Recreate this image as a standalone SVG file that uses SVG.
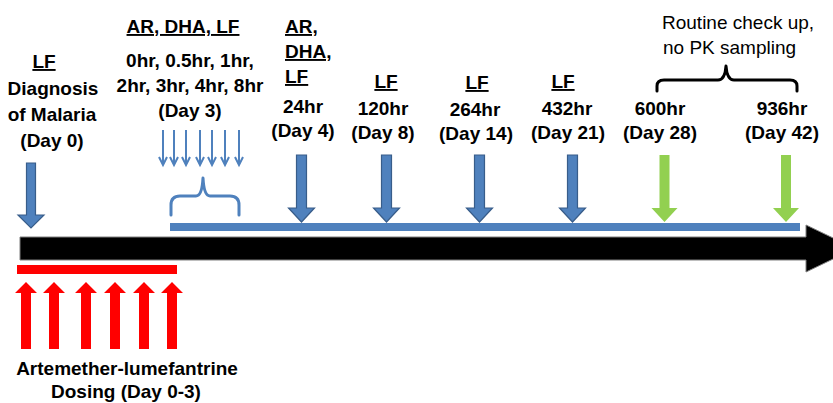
<svg xmlns="http://www.w3.org/2000/svg" width="833" height="403" viewBox="0 0 833 403">
<style>
text{font-family:"Liberation Sans",Arial,sans-serif;font-size:19px;fill:#000}
.b{font-weight:bold}
.u{text-decoration:underline}
.m{text-anchor:middle}
.blue{fill:#4f81bd;stroke:#385d8a;stroke-width:1.2}
.green{fill:#92d050;stroke:none}
.red{fill:#ff0000}
.thin{stroke:#4f81bd;stroke-width:2;fill:none}
.brace{fill:none;stroke-width:3;stroke-linecap:round;stroke-linejoin:round}
</style>
<defs>
<path id="down" d="M-5,-67 H5 V-14 H13 L0,0 L-13,-14 H-5 Z"/>
<path id="up" d="M-5,67 H5 V11 H11 L0,0 L-11,11 H-5 Z"/>
<g id="small"><path d="M0,0 V35 M-4,27 L0,35 L4,27"/></g>
</defs>

<g id="timeline">
<path d="M20,237 H806 V225 L855,248.5 L806,272 V260 H20 Z" fill="#000" stroke="#7f7f7f" stroke-width="1"/>
<rect x="170" y="223" width="630" height="8" fill="#4f81bd"/>
</g>

<g id="node-day0">
<text class="b u m" x="44" y="68">LF</text>
<text class="b m" x="53" y="95">Diagnosis</text>
<text class="b m" x="52" y="121">of Malaria</text>
<text class="b m" x="52" y="147">(Day 0)</text>
</g>

<g id="node-day3">
<text class="b u m" x="183" y="33">AR, DHA, LF</text>
<text class="b m" x="190" y="67">0hr, 0.5hr, 1hr,</text>
<text class="b m" x="190" y="92">2hr, 3hr, 4hr, 8hr</text>
<text class="b m" x="190" y="117">(Day 3)</text>
</g>

<g id="node-day4">
<text class="b u" x="285" y="33">AR,</text>
<text class="b u" x="285" y="58">DHA,</text>
<text class="b u" x="285" y="83">LF</text>
<text class="b m" x="303" y="113">24hr</text>
<text class="b m" x="303" y="137">(Day 4)</text>
</g>

<g id="node-day8">
<text class="b u m" x="386" y="88">LF</text>
<text class="b m" x="383" y="115">120hr</text>
<text class="b m" x="383" y="139">(Day 8)</text>
</g>

<g id="node-day14">
<text class="b u m" x="477" y="89">LF</text>
<text class="b m" x="475" y="116">264hr</text>
<text class="b m" x="476" y="140">(Day 14)</text>
</g>

<g id="node-day21">
<text class="b u m" x="563" y="88">LF</text>
<text class="b m" x="567" y="115">432hr</text>
<text class="b m" x="568" y="139">(Day 21)</text>
</g>

<g id="node-day28">
<text class="b m" x="660" y="115">600hr</text>
<text class="b m" x="660" y="139">(Day 28)</text>
</g>

<g id="node-day42">
<text class="b m" x="782" y="115">936hr</text>
<text class="b m" x="782" y="139">(Day 42)</text>
</g>

<g id="node-routine">
<text x="662" y="29">Routine check up,</text>
<text x="663" y="54">no PK sampling</text>
<path class="brace" stroke="#000" d="M657,91 V86 Q657,80 664,80 H718 Q725,80 726,66 Q727,80 734,80 H790 Q797,80 797,86 V91"/>
</g>

<g id="node-dosing">
<rect class="red" x="17" y="265" width="160" height="9"/>
<use href="#up" class="red" x="26" y="282"/>
<use href="#up" class="red" x="54" y="282"/>
<use href="#up" class="red" x="86" y="282"/>
<use href="#up" class="red" x="115" y="282"/>
<use href="#up" class="red" x="144" y="282"/>
<use href="#up" class="red" x="172" y="282"/>
<text class="b m" x="127" y="375">Artemether-lumefantrine</text>
<text class="b m" x="126" y="398">Dosing (Day 0-3)</text>
</g>

<g id="connectors">
<path class="blue" d="M26.5,163 H35.5 V215 H44 L31,228 L18,215 H26.5 Z"/>
<use href="#down" class="blue" x="301.5" y="222"/>
<use href="#down" class="blue" x="386.5" y="222"/>
<use href="#down" class="blue" x="479.5" y="222"/>
<use href="#down" class="blue" x="572.5" y="222"/>
<use href="#down" class="green" x="664.5" y="222"/>
<use href="#down" class="green" x="786" y="222"/>
<g class="thin">
<use href="#small" x="163" y="130"/>
<use href="#small" x="174" y="130"/>
<use href="#small" x="186" y="130"/>
<use href="#small" x="200" y="130"/>
<use href="#small" x="212" y="130"/>
<use href="#small" x="225" y="130"/>
<use href="#small" x="239" y="130"/>
</g>
<path class="brace" stroke="#4f81bd" d="M171,215 V205 Q171,196 180,196 H196 Q202,196 203,178 Q204,196 210,196 H230 Q239,196 239,205 V215"/>
</g>
</svg>
